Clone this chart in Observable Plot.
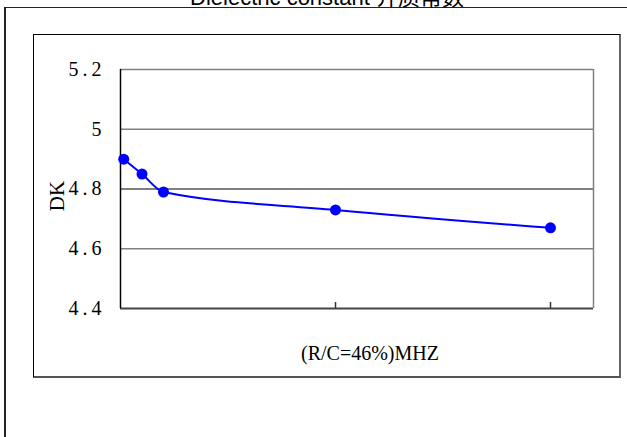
<!DOCTYPE html>
<html>
<head>
<meta charset="utf-8">
<script src="https://cdn.jsdelivr.net/npm/d3@7"></script>
<script src="https://cdn.jsdelivr.net/npm/@observablehq/plot@0.6"></script>
<style>
  html, body { margin: 0; padding: 0; background: #fff; overflow: hidden; }
  #page { position: relative; width: 627px; height: 437px; overflow: hidden; background: #fff; }
  #outer { position: absolute; left: 4px; top: 7px; width: 900px; height: 700px;
           border-left: 2px solid #222; border-top: 1.5px solid #222; }
  #title { position: absolute; left: 0; top: 0; }
  #area { position: absolute; left: 33px; top: 34px; width: 588px; height: 344px; background: #fff; }
  #areaBorder { position: absolute; left: 33px; top: 34px; width: 588px; height: 344px; box-sizing: border-box;
                border-left: 1px solid #000; border-top: 1px solid #000;
                border-right: 2px solid #666; border-bottom: 2px solid #555; pointer-events: none; }
  #chart { position: absolute; left: 33px; top: 34px; }
  #chart svg text { font-family: 'Liberation Serif', 'Times New Roman', serif; }
  [aria-label="y-axis tick label"] text { letter-spacing: 4px; font-variant-numeric: normal; }
</style>
</head>
<body>
<div id="page">
  <div id="outer"></div>
  <svg id="title" width="627" height="40">
    <text x="327" y="5" text-anchor="middle" font-size="22"
      font-family="'Liberation Sans', Arial, 'Noto Sans CJK SC', sans-serif" fill="#000">Dielectric constant 介质常数</text>
  </svg>
  <div id="area"></div>
  <div id="chart"></div>
  <div id="areaBorder"></div>
</div>
<script>
// Data
const freq = [15, 100, 200, 1000, 2000];          // frequency (MHz)
const dk = [4.90, 4.85, 4.79, 4.73, 4.67];        // dielectric constant
const yTicks = [4.4, 4.6, 4.8, 5.0, 5.2];
const yTickLabels = ["4.4", "4.6", "4.8", "5", "5.2"];
const xTicks = [1000, 2000];
const xDomain = [0, 2200];
const yDomain = [4.4, 5.2];
const grayGrid = [5.0, 4.6];
const darkGrid = [4.8];
const xLabel = "(R/C=46%)MHZ";
const yLabel = "DK";

const data = freq.map((f, i) => ({ f, dk: dk[i] }));
const labelOf = new Map(yTicks.map((t, i) => [t, yTickLabels[i]]));
const serif = "'Liberation Serif', 'Times New Roman', serif";

const chart = Plot.plot({
  width: 588,
  height: 344,
  marginLeft: 87,
  marginRight: 28,
  marginTop: 35,
  marginBottom: 70,
  style: { background: "transparent", fontFamily: serif, fontSize: "20px", color: "#000" },
  x: { domain: xDomain, axis: null },
  y: { domain: yDomain, axis: null },
  marks: [
    Plot.ruleY(grayGrid, { stroke: "#808080", strokeWidth: 1.5 }),
    Plot.ruleY(darkGrid, { stroke: "#000", strokeWidth: 1 }),
    Plot.ruleY([yDomain[1]], { stroke: "#808080", strokeWidth: 1.5 }),
    Plot.ruleX([xDomain[1]], { stroke: "#808080", strokeWidth: 1.5 }),
    Plot.ruleX(xTicks, { y1: yDomain[0], y2: yDomain[0], insetTop: -6, stroke: "#333", strokeWidth: 1.5 }),
    Plot.ruleY([yDomain[0]], { stroke: "#444", strokeWidth: 2 }),
    Plot.ruleX([xDomain[0]], { stroke: "#000", strokeWidth: 1.5 }),
    Plot.axisY({ ticks: yTicks, tickFormat: d => labelOf.get(d), tickSize: 0, tickPadding: 15, fontSize: 20, fontFamily: serif, label: null }),
    Plot.line(data, { x: "f", y: "dk", curve: "monotone-x", stroke: "#0000ff", strokeWidth: 2 }),
    Plot.dot(data, { x: "f", y: "dk", r: 5.5, fill: "#0000ff" }),
    Plot.text([xLabel], { frameAnchor: "bottom", dx: 13, dy: 45, fontSize: 20, fontFamily: serif, lineAnchor: "middle", fill: "#000" }),
    Plot.text([yLabel], { frameAnchor: "left", dx: -63, dy: 7, rotate: -90, fontSize: 21, fontFamily: serif, lineAnchor: "middle", textAnchor: "middle", fill: "#000" })
  ]
});
document.getElementById("chart").appendChild(chart);
</script>
</body>
</html>
